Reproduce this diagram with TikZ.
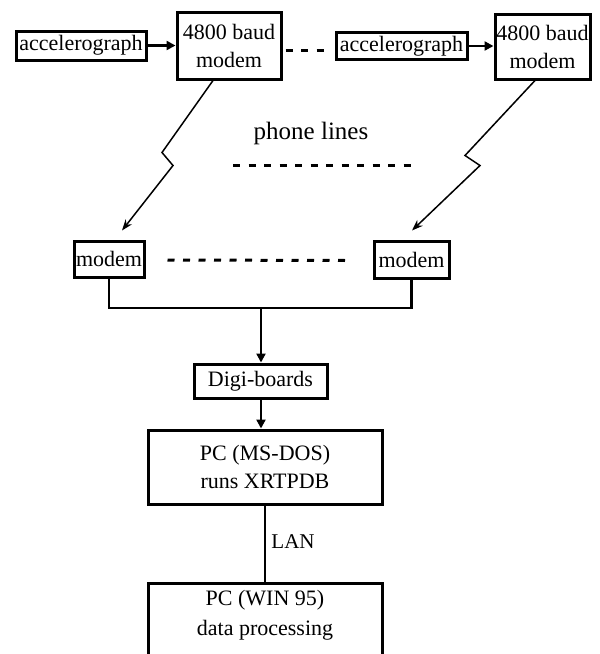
\documentclass[tikz,border=0pt]{standalone}
\usepackage{fontspec}
\setmainfont{Liberation Serif}
\usetikzlibrary{arrows.meta,calc}
\begin{document}
\begin{tikzpicture}[x=1pt,y=-1pt,
  box/.style={draw,line width=3pt,inner sep=0pt,align=center,font=\fontsize{22}{28}\selectfont},
  txt/.style={inner sep=0pt,align=center,font=\fontsize{22}{30}\selectfont},
  thick line/.style={line width=2.8pt},
  arr/.style={line width=2.8pt,-{Triangle[length=9pt,width=9pt]}},
  zig/.style={line width=1.5pt,-{Stealth[length=11pt,width=8pt]}},
  dashline/.style={line width=3pt,dash pattern=on 7pt off 8.5pt}]
\useasboundingbox (0,0) rectangle (600,654);
% top row
\node[box,minimum width=130pt,minimum height=29pt] (acc1) at (81,45.5) {accelerograph};
\node[box,minimum width=104pt,minimum height=67pt] (mod1) at (229,45.5) {4800 baud\\modem};
\node[box,minimum width=131pt,minimum height=27pt] (acc2) at (401.5,46) {accelerograph};
\node[box,minimum width=95pt,minimum height=65pt] (mod2) at (542.5,46.5) {4800 baud\\modem};
% lower modems
\node[box,minimum width=70pt,minimum height=36pt] (mlo) at (109,259) {modem};
\node[box,minimum width=75pt,minimum height=37pt] (mro) at (411.5,259.5) {modem};
% phone lines
\node[txt,font=\fontsize{25}{30}\selectfont] (phone) at (311,133) {phone lines};
\coordinate (pl1) at (233,165);
\coordinate (pl2) at (412,165);
% digi and PCs
\node[box,minimum width=133pt,minimum height=34pt] (digi) at (260.5,381) {Digi-boards};
\node[box,minimum width=234pt,minimum height=74pt] (pc1) at (265,467) {PC (MS-DOS)\\runs XRTPDB};
\node[box,minimum width=234pt,minimum height=110pt] (pc2) at (265,638) {};
\node[txt] (pc2t) at (265,615) {PC (WIN 95)\\data processing};
\node[txt,font=\fontsize{21}{25}\selectfont] (lan) at (293,542) {LAN};
% connectors top row
\draw[arr] (acc1.east) -- (acc1.east -| mod1.west);
\draw[arr] (acc2.east) -- (acc2.east -| mod2.west);
\draw[dashline] ($(mod1.east)+(3,4.5)$) -- ($(acc2.west)+(-4,4)$);
% zigzag phone links
\draw[zig] ($(mod1.south)+(-16,0)$) -- ($(mod1.south)+(-67,72)$) -- ($(mod1.south)+(-56,85)$) -- ($(mlo.north)+(13,-9)$);
\draw[zig] ($(mod2.south)+(-7.5,0)$) -- ($(mod2.south)+(-77.5,75)$) -- ($(mod2.south)+(-62.5,85)$) -- ($(mro.north)+(0.5,-9)$);
\draw[dashline] (pl1) -- (pl2);
\draw[dashline] ($(mlo.east)+(22,1)$) -- ($(mro.west)+(-26,1)$);
% bus
\coordinate (bus) at (261,308);
\draw[thick line] (mlo.south) |- (bus) -| (mro.south);
\draw[arr] (bus) -- (bus |- digi.north);
\draw[arr] (digi.south -| bus) -- (bus |- pc1.north);
\draw[thick line] (pc1.south) -- (pc2.north);
\end{tikzpicture}
\end{document}
